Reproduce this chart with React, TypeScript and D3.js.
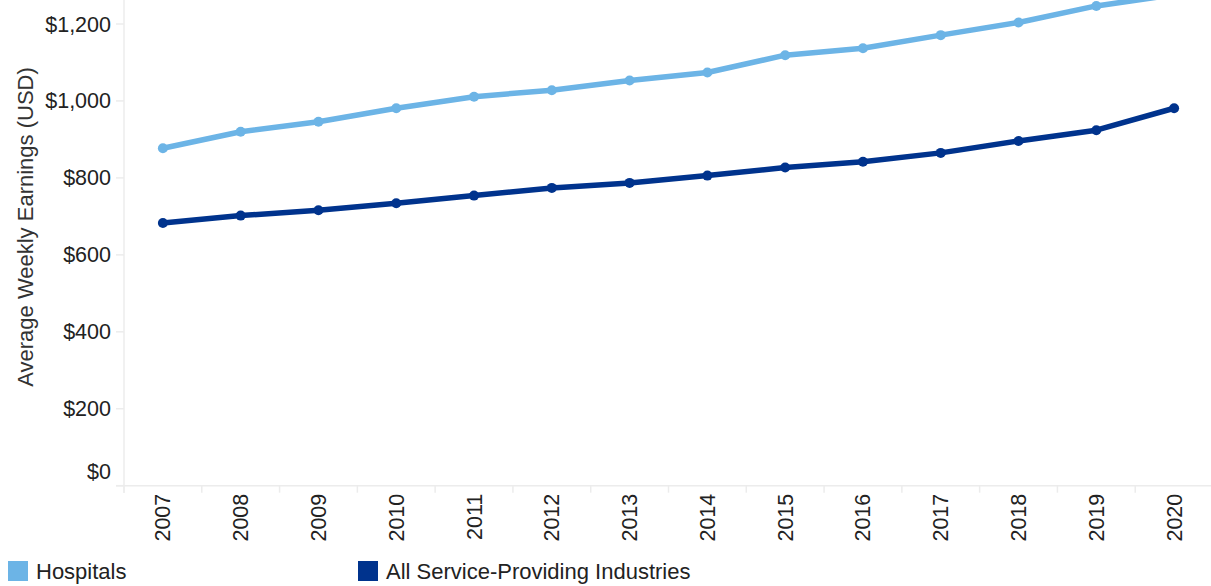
import * as d3 from 'd3';
import React, { useEffect, useRef } from 'react';

const years = ['2007', '2008', '2009', '2010', '2011', '2012', '2013', '2014', '2015', '2016', '2017', '2018', '2019', '2020'];
const hospitals = [877, 920, 946, 981, 1011, 1028, 1053, 1074, 1119, 1137, 1171, 1204, 1247, 1276];
const allService = [683, 702, 716, 734, 754, 774, 787, 806, 827, 842, 865, 896, 924, 981];
const yTicks = [0, 200, 400, 600, 800, 1000, 1200];

const seriesList = [
    { name: 'Hospitals', values: hospitals, color: '#6cb4e6' },
    { name: 'All Service-Providing Industries', values: allService, color: '#00338d' },
];

const W = 1211;
const H = 586;

const App: React.FC = () => {
    const svgRef = useRef<SVGSVGElement | null>(null);

    useEffect(() => {
        const margin = { top: 0, right: -2, bottom: 100, left: 124 };
        const plotBottom = 485.7;

        d3.select(svgRef.current).selectAll('*').remove();
        const svg = d3.select(svgRef.current)
            .attr('width', W)
            .attr('height', H)
            .style('font-family', 'Arial, "Liberation Sans", sans-serif');

        const x = d3.scaleBand()
            .domain(years)
            .range([margin.left, W - margin.right])
            .padding(0);

        const y = d3.scaleLinear()
            .domain([0, 1200])
            .range([plotBottom, 24]);

        const axisColor = '#ececec';

        // y axis line and ticks
        svg.append('line')
            .attr('x1', margin.left).attr('x2', margin.left)
            .attr('y1', 0).attr('y2', plotBottom + 7)
            .attr('stroke', axisColor).attr('stroke-width', 1.5);

        const yg = svg.append('g');
        yTicks.forEach(t => {
            yg.append('line')
                .attr('x1', margin.left - 8).attr('x2', margin.left)
                .attr('y1', y(t)).attr('y2', y(t))
                .attr('stroke', axisColor).attr('stroke-width', 1.5);
            yg.append('text')
                .attr('x', margin.left - 13)
                .attr('y', t === 0 ? y(t) - 14 : y(t))
                .attr('dy', '0.35em')
                .attr('text-anchor', 'end')
                .attr('font-size', 21.5)
                .attr('fill', '#222')
                .text(d3.format('$,')(t));
        });

        // x axis baseline and ticks at band edges
        svg.append('line')
            .attr('x1', margin.left - 8).attr('x2', W)
            .attr('y1', plotBottom).attr('y2', plotBottom)
            .attr('stroke', axisColor).attr('stroke-width', 1.5);

        years.forEach(yr => {
            const x0 = x(yr)!;
            svg.append('line')
                .attr('x1', x0).attr('x2', x0)
                .attr('y1', plotBottom).attr('y2', plotBottom + 7)
                .attr('stroke', axisColor).attr('stroke-width', 1.5);
            const cx = x0 + x.bandwidth() / 2;
            svg.append('text')
                .attr('transform', `translate(${cx},${plotBottom + 8}) rotate(-90)`)
                .attr('dy', '0.35em')
                .attr('text-anchor', 'end')
                .attr('font-size', 21.5)
                .attr('fill', '#222')
                .text(yr);
        });

        // y axis title
        svg.append('text')
            .attr('transform', `translate(25,${227}) rotate(-90)`)
            .attr('dy', '0.35em')
            .attr('text-anchor', 'middle')
            .attr('font-size', 22)
            .attr('fill', '#333')
            .text('Average Weekly Earnings (USD)');

        // clip the plot area
        svg.append('defs').append('clipPath').attr('id', 'plot-clip')
            .append('rect')
            .attr('x', margin.left).attr('y', 0)
            .attr('width', W - margin.left).attr('height', plotBottom);

        const plot = svg.append('g').attr('clip-path', 'url(#plot-clip)');

        const line = d3.line<number>()
            .x((_, i) => x(years[i])! + x.bandwidth() / 2)
            .y(d => y(d));

        seriesList.forEach(s => {
            plot.append('path')
                .datum(s.values)
                .attr('d', line)
                .attr('fill', 'none')
                .attr('stroke', s.color)
                .attr('stroke-width', 5.5)
                .attr('stroke-linejoin', 'round');

            plot.selectAll(null)
                .data(s.values)
                .enter()
                .append('circle')
                .attr('cx', (_, i) => x(years[i])! + x.bandwidth() / 2)
                .attr('cy', d => y(d))
                .attr('r', 5)
                .attr('fill', s.color);
        });

        // legend
        const legendX = [8, 358];
        seriesList.forEach((s, i) => {
            const g = svg.append('g').attr('transform', `translate(${legendX[i]},561)`);
            g.append('rect')
                .attr('width', 20).attr('height', 20)
                .attr('fill', s.color);
            g.append('text')
                .attr('x', 28).attr('y', 10)
                .attr('dy', '0.35em')
                .attr('font-size', 22)
                .attr('fill', '#222')
                .text(s.name);
        });
    }, []);

    return (
        <div style={{ position: 'absolute', left: 0, top: 0 }}>
            <svg ref={svgRef}></svg>
        </div>
    );
};

export default App;
